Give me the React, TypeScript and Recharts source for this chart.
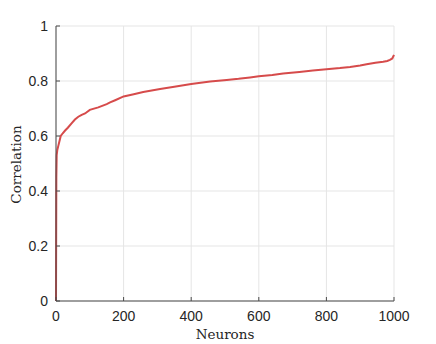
import React from 'react';
import { LineChart, Line, XAxis, YAxis, CartesianGrid, Label } from 'recharts';

const neurons = [0, 1, 2, 4, 7, 10, 14, 20, 27, 35, 46, 56, 66, 76, 86, 100, 125, 150, 160, 175, 200, 230, 258, 308, 350, 400, 456, 505, 540, 574, 600, 640, 672, 720, 760, 800, 840, 870, 900, 919, 945, 968, 980, 988, 995, 1000];
const correlation = [0, 0.45, 0.53, 0.55, 0.565, 0.58, 0.6, 0.61, 0.62, 0.63, 0.646, 0.66, 0.67, 0.677, 0.682, 0.695, 0.704, 0.716, 0.722, 0.73, 0.744, 0.752, 0.76, 0.771, 0.779, 0.789, 0.798, 0.804, 0.808, 0.813, 0.817, 0.822, 0.827, 0.833, 0.838, 0.843, 0.847, 0.851, 0.856, 0.861, 0.866, 0.870, 0.873, 0.877, 0.882, 0.895];
const xTicks = [0, 200, 400, 600, 800, 1000];
const yTicks = [0, 0.2, 0.4, 0.6, 0.8, 1];

const data = neurons.map((n, i) => ({ n, c: correlation[i] }));

const TICK_FONT = '"Liberation Sans", Arial, Helvetica, sans-serif';
const LABEL_FONT = '"DejaVu Serif", serif';
const TEXT_COLOR = '#262626';
const AXIS_COLOR = '#4a4a4a';

const YTick = (props: any) => {
  const { x, y, payload } = props;
  const ax = x + 8;
  return (
    <g>
      <line x1={ax} x2={ax + 4} y1={y} y2={y} stroke={AXIS_COLOR} strokeWidth={1} />
      <text x={x} y={y} dy="0.355em" textAnchor="end" fontFamily={TICK_FONT} fontSize={14} fill={TEXT_COLOR}>
        {String(payload.value)}
      </text>
    </g>
  );
};

const XTick = (props: any) => {
  const { x, y, payload } = props;
  const ay = y - 10;
  return (
    <g>
      <line x1={x} x2={x} y1={ay} y2={ay - 4} stroke={AXIS_COLOR} strokeWidth={1} />
      <text x={x} y={y} dy="0.71em" textAnchor="middle" fontFamily={TICK_FONT} fontSize={14} fill={TEXT_COLOR}>
        {String(payload.value)}
      </text>
    </g>
  );
};

const YLabel = (props: any) => {
  const vb = props.viewBox || { x: 16, y: 26, width: 40, height: 275 };
  const cx = vb.x + 5;
  const cy = vb.y + vb.height / 2 + 1;
  return (
    <text transform={`translate(${cx}, ${cy}) rotate(-90)`} x={0} y={0} textAnchor="middle" fontFamily={LABEL_FONT} fontSize={13.5} fill={TEXT_COLOR}>
      Correlation
    </text>
  );
};

const XLabel = (props: any) => {
  const vb = props.viewBox || { x: 56, y: 301, width: 338, height: 30 };
  return (
    <text x={vb.x + vb.width / 2} y={vb.y + 38} textAnchor="middle" fontFamily={LABEL_FONT} fontSize={13.5} fill={TEXT_COLOR}>
      Neurons
    </text>
  );
};

export default function App() {
  return (
    <div style={{ position: 'absolute', left: 0, top: 0, width: 436, height: 344, background: '#fff' }}>
      <LineChart width={436} height={344} data={data} margin={{ top: 26, right: 42, bottom: 13, left: 16 }}>
        <CartesianGrid stroke="#e5e5e5" strokeWidth={1} />
        <XAxis
          dataKey="n"
          type="number"
          domain={[0, 1000]}
          ticks={xTicks}
          tickSize={6}
          tickMargin={4}
          height={30}
          tickLine={false}
          axisLine={{ stroke: AXIS_COLOR, strokeWidth: 1 }}
          tick={<XTick />}
          interval={0}
        >
          <Label content={<XLabel />} />
        </XAxis>
        <YAxis
          dataKey="c"
          type="number"
          domain={[0, 1]}
          ticks={yTicks}
          tickSize={6}
          tickMargin={2}
          width={40}
          tickLine={false}
          axisLine={{ stroke: AXIS_COLOR, strokeWidth: 1 }}
          tick={<YTick />}
          interval={0}
        >
          <Label content={<YLabel />} />
        </YAxis>
        <Line
          type="linear"
          dataKey="c"
          stroke="#d64b4b"
          strokeWidth={2}
          dot={false}
          isAnimationActive={false}
        />
      </LineChart>
    </div>
  );
}
